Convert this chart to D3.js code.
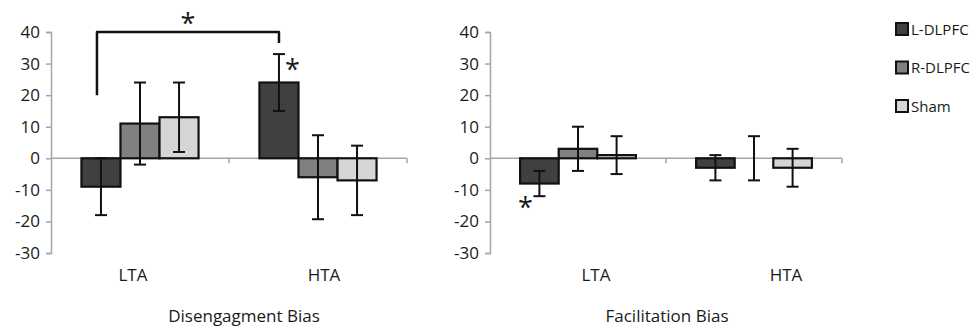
<!DOCTYPE html>
<html><head><meta charset="utf-8">
<script src="https://cdn.jsdelivr.net/npm/d3@7"></script>
<style>body{margin:0;background:#fff}svg{display:block}text{font-family:"Open Sans",sans-serif;fill:#1a1a1a}</style>
</head><body><svg id="c" width="978" height="330"></svg>
<script>
const categories = ["LTA", "HTA"];
const series = ["L-DLPFC", "R-DLPFC", "Sham"];
const yTicks = [-30, -20, -10, 0, 10, 20, 30, 40];
const panelTitles = ["Disengagment Bias", "Facilitation Bias"];
// means[category][series], errors[category][series]
const disengagementMeans = [[-9, 11, 13], [24, -6, -7]];
const disengagementErrors = [[9, 13, 11], [9, 13.3, 11]];
const facilitationMeans = [[-8, 3, 1], [-3, 0, -3]];
const facilitationErrors = [[4, 7, 6], [4, 7, 6]];
const colors = ["#404040", "#808080", "#d6d6d6"];

const svg = d3.select("#c");
const y = d3.scaleLinear().domain([-30, 40]).range([253, 32]);

const panels = [
  {x0: 51, x1: 407, means: disengagementMeans, errs: disengagementErrors, title: panelTitles[0], labelOff: [-7, 6], titleX: 244},
  {x0: 490, x1: 842, means: facilitationMeans, errs: facilitationErrors, title: panelTitles[1], labelOff: [18, 32], titleX: 667}
];
const axisCol = "#a6a6a6";

panels.forEach((p, pi) => {
  const g = svg.append("g");
  const x = d3.scaleBand().domain(categories).range([p.x0, p.x1]);
  const xs = d3.scaleBand().domain(series).range([0, x.bandwidth()]).paddingOuter(0.78);
  // y axis
  const ya = d3.axisLeft(y).tickValues(yTicks).tickSize(5).tickPadding(6).tickFormat(d => String(d));
  const yg = g.append("g").attr("transform", `translate(${p.x0},0)`).call(ya);
  yg.select(".domain").attr("stroke", axisCol).attr("stroke-width", 1.5);
  yg.selectAll(".tick line").attr("stroke", axisCol).attr("stroke-width", 1.5);
  yg.selectAll(".tick text").attr("font-size", 17).attr("font-family", "Open Sans").attr("fill", "#1a1a1a");
  // zero x axis with ticks at category boundaries
  const zeroY = y(0);
  g.append("line").attr("x1", p.x0).attr("x2", p.x1).attr("y1", zeroY).attr("y2", zeroY)
    .attr("stroke", axisCol).attr("stroke-width", 1.5);
  const bounds = [p.x0 + x.step(), p.x1];
  g.selectAll(".xt").data(bounds).join("line").attr("x1", d => d).attr("x2", d => d)
    .attr("y1", zeroY).attr("y2", zeroY + 5).attr("stroke", axisCol).attr("stroke-width", 1.5);

  categories.forEach((c, ci) => {
    series.forEach((s, si) => {
      const v = p.means[ci][si], e = p.errs[ci][si];
      const bx = x(c) + xs(s), bw = xs.bandwidth();
      g.append("rect").attr("x", bx).attr("width", bw)
        .attr("y", y(Math.max(0, v))).attr("height", Math.abs(y(v) - y(0)))
        .attr("fill", colors[si]).attr("stroke", "#111").attr("stroke-width", 2.2);
      const cx = bx + bw / 2;
      g.append("line").attr("x1", cx).attr("x2", cx).attr("y1", y(v + e)).attr("y2", y(v - e))
        .attr("stroke", "#111").attr("stroke-width", 2);
      [v + e, v - e].forEach(t => g.append("line").attr("x1", cx - 6).attr("x2", cx + 6)
        .attr("y1", y(t)).attr("y2", y(t)).attr("stroke", "#111").attr("stroke-width", 2));
    });
    g.append("text").attr("x", x(c) + x.bandwidth() / 2 + p.labelOff[ci]).attr("y", 281)
      .attr("text-anchor", "middle").attr("font-size", 17).text(c);
  });
  g.append("text").attr("x", p.titleX).attr("y", 322).attr("text-anchor", "middle")
    .attr("font-size", 17).text(p.title);

  if (pi === 0) {
    const lx = x("LTA") + xs("L-DLPFC") + xs.bandwidth() / 2 - 4;
    const rx = x("HTA") + xs("L-DLPFC") + xs.bandwidth() / 2;
    g.append("path").attr("d", `M${lx},${y(20)} V${y(40)} H${rx} V${y(36.5)}`)
      .attr("fill", "none").attr("stroke", "#111").attr("stroke-width", 2.5).attr("stroke-linejoin", "round");
    g.append("text").attr("x", (lx + rx) / 2).attr("y", y(40) + 1).attr("text-anchor", "middle")
      .attr("font-size", 27).text("*");
    const sx = x("HTA") + xs("L-DLPFC") + xs.bandwidth() - 6;
    g.append("text").attr("x", sx).attr("y", y(25)).attr("text-anchor", "middle")
      .attr("font-size", 27).text("*");
  } else {
    const sx = x("LTA") + xs("L-DLPFC") + xs.bandwidth() / 2 - 14;
    g.append("text").attr("x", sx).attr("y", y(-18.7)).attr("text-anchor", "middle")
      .attr("font-size", 27).text("*");
  }
});

// legend
const legendY = d3.scalePoint().domain(series).range([29, 106]);
series.forEach((s, si) => {
  svg.append("rect").attr("x", 896).attr("y", legendY(s) - 6).attr("width", 12).attr("height", 12)
    .attr("fill", colors[si]).attr("stroke", "#111").attr("stroke-width", 2);
  svg.append("text").attr("x", 911).attr("y", legendY(s) + 5.5).attr("font-size", 15).text(s);
});
</script></body></html>
